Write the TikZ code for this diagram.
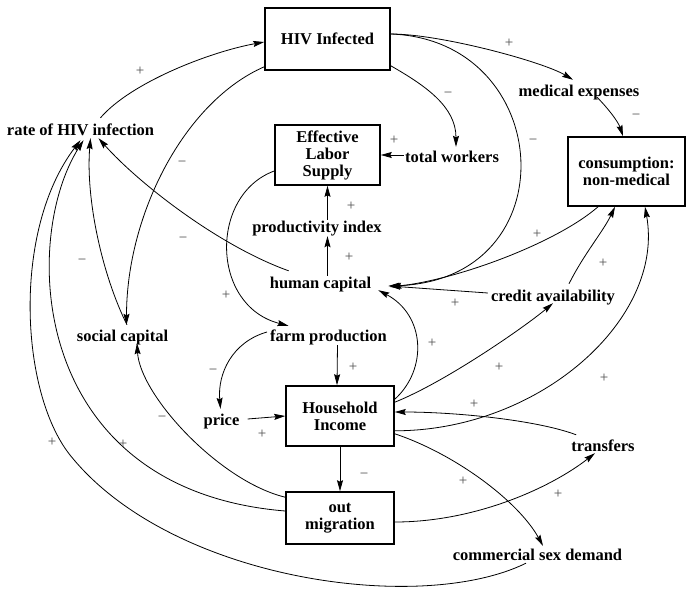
\documentclass[tikz,border=0pt]{standalone}
\usepackage{fontspec}
\setmainfont{Liberation Serif}
\usetikzlibrary{arrows.meta,calc}
\newcommand\bfnt{\fontsize{16.5}{17}\selectfont\bfseries}
\newcommand\sgnfnt{\fontsize{15}{15}\selectfont}
\tikzset{
  x=1pt, y=-1pt,
  box/.style={draw, line width=1.6pt, align=center, inner sep=0pt, font=\bfnt},
  lbl/.style={inner sep=1pt, text height=11pt, text depth=3pt, font=\bfnt},
  sgn/.style={font=\sgnfnt, text=black!70, inner sep=0pt},
  conn/.style={line width=0.8pt, -{Stealth[length=11pt,width=6pt,inset=1.5pt]}},
}
\begin{document}
\begin{tikzpicture}
\useasboundingbox (0,0) rectangle (686,589);
% boxes
\node[box, minimum width=125pt, minimum height=62pt] (hiv) at (327.5,39) {HIV Infected};
\node[box, minimum width=105pt, minimum height=60pt] (els) at (327.5,155) {Effective\\Labor\\Supply};
\node[box, minimum width=117pt, minimum height=69pt] (cons) at (626.5,171.5) {consumption:\\non-medical};
\node[box, minimum width=108pt, minimum height=60pt] (hi) at (340,416) {Household\\Income};
\node[box, minimum width=108pt, minimum height=52pt] (om) at (340,518) {out\\migration};
% text nodes
\node[lbl] (rate) at (80.5,131) {rate of HIV infection};
\node[lbl] (tw) at (452,158) {total workers};
\node[lbl] (med) at (579,92) {medical expenses};
\node[lbl] (prod) at (317,228) {productivity index};
\node[lbl] (hc) at (320.5,284) {human capital};
\node[lbl] (credit) at (553,297) {credit availability};
\node[lbl] (social) at (122.5,337) {social capital};
\node[lbl] (farm) at (328.5,337) {farm production};
\node[lbl] (price) at (221.5,421) {price};
\node[lbl] (tr) at (603,447) {transfers};
\node[lbl] (csd) at (537.5,556) {commercial sex demand};
\coordinate (bend) at (70,455);
% connectors
\draw[conn] ($(rate.north)+(20,-5)$) .. controls +(30,-35) and +(-55,10) .. ($(hiv.west)+(0,3)$);
\draw[conn] ($(hiv.south west)+(0,-4)$) .. controls +(-80,35) and +(0,-110) .. ($(social.north)+(4,-4)$);
\draw[conn] ($(hiv.south east)+(0,-5)$) .. controls +(35,20) and +(0,-40) .. ($(tw.north)+(4,-3)$);
\draw[conn] ($(hiv.east)+(0,-5)$) .. controls +(50,0) and +(-30,-18) .. ($(med.north)+(-6,-4)$);
\draw[conn] ($(hiv.east)+(0,-5)$) .. controls +(165,6) and +(182,-6) .. ($(hc.east)+(16,2)$);
\draw[conn] ($(med.south)+(18,-3)$) .. controls +(10,10) and +(-5,-15) .. ($(cons.north)+(-3.5,0)$);
\draw[conn] ($(tw.west)+(0,-3)$) -- (els.east);
\draw[conn] (prod.north -| els.south) -- (els.south);
\draw[conn] (hc.north -| els.south) -- (prod.south -| els.south);
\draw[conn] ($(hc.north west)+(20,-5)$) .. controls +(-70,-25) and +(40,45) .. ($(rate.south)+(18,-1)$);
\draw[conn] ($(els.west)+(0,16)$) .. controls +(-65,24) and +(-78,-20) .. ($(farm.north)+(-40,-3)$);
\draw[conn] ($(farm.west)+(-2,-5)$) .. controls +(-35,10) and +(-3,-35) .. ($(price.north)+(-1,-4)$);
\draw[conn] ($(farm.south)+(9,0)$) -- ($(hi.north)+(-3,0)$);
\draw[conn] ($(price.east)+(7,-2)$) -- (hi.west);
\draw[conn] ($(hi.north east)+(0,14)$) .. controls +(33,-30) and +(47,25) .. ($(hc.south east)+(6,-2)$);
\draw[conn] ($(hi.north east)+(0,17)$) .. controls +(50,-20) and +(-30,25) .. ($(credit.south)+(0,-2)$);
\draw[conn] ($(credit.north)+(16,-5)$) .. controls +(15,-30) and +(-12,25) .. ($(cons.south)+(-11.5,0)$);
\draw[conn] ($(cons.south)+(-28.5,0)$) .. controls +(-40,35) and +(70,-8) .. ($(hc.east)+(18,3)$);
\draw[conn] ($(credit.west)+(-2,-4)$) -- ($(hc.east)+(17,2)$);
\draw[conn] ($(hi.south east)+(0,-16)$) .. controls +(145,0) and +(20,112) .. ($(cons.south)+(18.5,0)$);
\draw[conn] ($(tr.north west)+(6,-4)$) .. controls +(-40,-15) and +(60,0) .. ($(hi.east)+(0,-4)$);
\draw[conn] ($(hi.south east)+(0,-13)$) .. controls +(60,20) and +(-25,-45) .. ($(csd.north)+(5.5,-2)$);
\draw[conn] ($(om.east)+(0,4)$) .. controls +(80,0) and +(-45,35) .. ($(tr.south)+(-8,-2)$);
\draw[conn] (hi.south) -- (om.north);
\draw[conn] ($(om.north west)+(0,6)$) .. controls +(-66,-16) and +(3,52) .. ($(social.south)+(14.5,-2)$);
\draw[conn] ($(om.west)+(0,-7)$) .. controls +(-256,-21) and +(-63,100) .. ($(rate.south)+(3,1)$);
\draw[conn] ($(social.north)+(4.5,-4)$) .. controls +(-25,-50) and +(-5,60) .. ($(rate.south)+(10,-1)$);
\draw[conn] ($(csd.south)+(-11.5,-1)$) .. controls +(-106,52) and +(100,125) .. (bend)
  .. controls (20,392) and (12,230) .. ($(rate.south)+(0,1)$);
% signs
\node[sgn] at (140,71) {+};
\node[sgn] at (182,164) {−};
\node[sgn] at (448,95) {−};
\node[sgn] at (509,43) {+};
\node[sgn] at (533,142) {−};
\node[sgn] at (636,117) {−};
\node[sgn] at (394,140) {+};
\node[sgn] at (351,206) {+};
\node[sgn] at (349,257) {+};
\node[sgn] at (183,240) {−};
\node[sgn] at (226,295) {+};
\node[sgn] at (213,372) {−};
\node[sgn] at (353,367) {+};
\node[sgn] at (262,434) {+};
\node[sgn] at (432,343) {+};
\node[sgn] at (499,367) {+};
\node[sgn] at (603,263) {+};
\node[sgn] at (537,234) {+};
\node[sgn] at (455,303) {+};
\node[sgn] at (604,378) {+};
\node[sgn] at (474,404) {+};
\node[sgn] at (463,481) {+};
\node[sgn] at (558,494) {+};
\node[sgn] at (364,476) {−};
\node[sgn] at (162,419) {−};
\node[sgn] at (123,444) {+};
\node[sgn] at (82,262) {−};
\node[sgn] at (52,442) {+};
\end{tikzpicture}
\end{document}
